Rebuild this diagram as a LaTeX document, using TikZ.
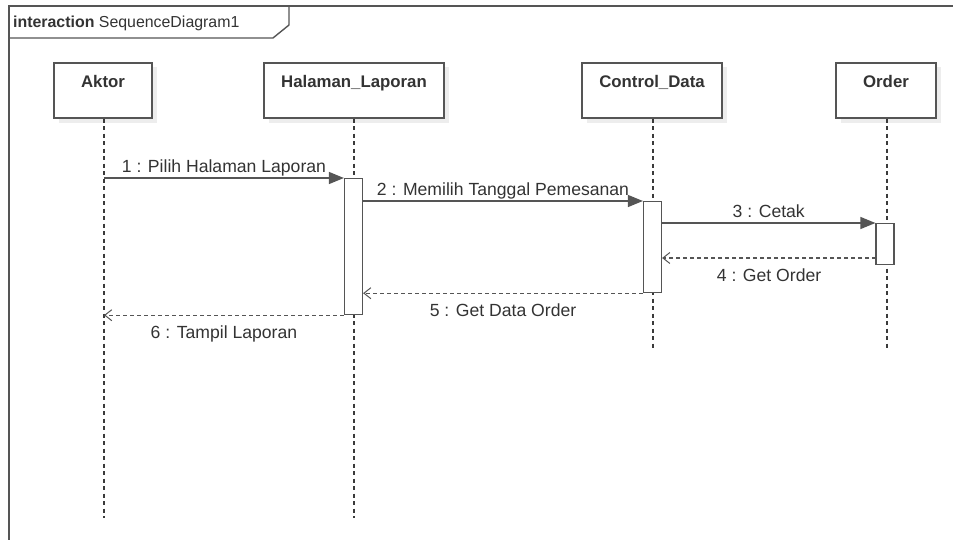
\documentclass[tikz,border=0pt]{standalone}
\usepackage{fontspec}
\setmainfont{Liberation Sans}
\usetikzlibrary{arrows.meta,positioning,calc}
\definecolor{linegray}{HTML}{555555}
\definecolor{dashgray}{HTML}{3A3A3A}
\definecolor{textgray}{HTML}{333333}
\definecolor{shadowgray}{HTML}{EDEDED}
\tikzset{
  objbox/.style={draw=linegray, line width=1.3pt, fill=white, minimum height=55pt, inner sep=0pt},
  objname/.style={font=\fontsize{16.8}{20}\selectfont\bfseries, text=textgray, inner sep=0pt},
  lifeline/.style={draw=dashgray, line width=1.1pt, dash pattern=on 4pt off 3.5pt},
  actbar/.style={draw=linegray, line width=1.2pt, fill=white, minimum width=18pt, inner sep=0pt},
  callmsg/.style={draw=linegray, line width=1.3pt, -{Triangle[length=15pt,width=12pt]}},
  retmsg/.style={draw=linegray, line width=1.3pt, dash pattern=on 4pt off 3pt, -{Straight Barb[length=7pt,width=11pt,line width=1pt]}},
  msglabel/.style={font=\fontsize{17.6}{20}\selectfont, text=textgray, inner sep=0pt, anchor=base},
  lblabove/.style={msglabel, yshift=5pt},
  lblbelow/.style={msglabel, yshift=-23.5pt},
  framebox/.style={draw=linegray, line width=1.4pt}
}
\begin{document}
\begin{tikzpicture}[x=1pt,y=-1pt]
  \useasboundingbox (0,0) rectangle (953,540);

  % interaction frame with its name tab
  \draw[framebox] (9,545) -- (9,6) -- (960,6);
  \draw[framebox] (9,38) -- (273,38) -- (289,25) -- (289,6);
  \node[anchor=base west, inner sep=0pt, text=textgray, font=\fontsize{15.9}{19}\selectfont] (title)
    at (13,28) {\textbf{interaction} SequenceDiagram1};

  % object box shadows
  \foreach \cx/\w in {103/98, 354/180, 652/140, 886/100}
    \fill[shadowgray] (\cx-\w/2+5,67.5) rectangle (\cx+\w/2+5,123);

  % objects
  \node[objbox, minimum width=98pt]  (aktor)   at (103,90.5) {};
  \node[objbox, minimum width=180pt] (halaman) at (354,90.5) {};
  \node[objbox, minimum width=140pt] (control) at (652,90.5) {};
  \node[objbox, minimum width=100pt] (order)   at (886,90.5) {};
  \node[objname, anchor=base] (aktorname)   at (103,88) {Aktor};
  \node[objname, anchor=base] (halamanname) at (354,88) {Halaman\_Laporan};
  \node[objname, anchor=base] (controlname) at (652,88) {Control\_Data};
  \node[objname, anchor=base] (ordername)   at (886,88) {Order};

  % lifeline ends
  \coordinate (aktorend)   at (104,518);
  \coordinate (halamanend) at (354,518);
  \coordinate (controlend) at (653,350);
  \coordinate (orderend)   at (887,350);
  \draw[lifeline] (aktor.south -| aktorend) -- (aktorend);
  \draw[lifeline] (halaman.south) -- (halamanend);
  \draw[lifeline] (control.south -| controlend) -- (controlend);
  \draw[lifeline] (order.south -| orderend) -- (orderend);

  % activation bars
  \node[actbar, minimum height=136pt, anchor=north] (bar1) at (353.5,178) {};
  \node[actbar, minimum height=91pt,  anchor=north] (bar2) at (652.5,201) {};
  \node[actbar, minimum height=41pt,  anchor=north] (bar3) at (885,223) {};

  % messages
  \coordinate (m1start) at (104,178);
  \coordinate (m4start) at (876,258);
  \draw[callmsg] (m1start) -- node[lblabove] (l1) {1 : Pilih Halaman Laporan} (bar1.north west);
  \draw[callmsg] (bar1.east |- bar2.north) -- node[lblabove] (l2) {2 : Memilih Tanggal Pemesanan} (bar2.north west);
  \draw[callmsg] (bar2.east |- bar3.north) -- node[lblabove] (l3) {3 : Cetak} (bar3.north west);
  \draw[retmsg] (m4start) -- node[lblbelow] (l4) {4 : Get Order} (bar2.east |- m4start);
  \draw[retmsg] (bar2.south west) -- node[lblbelow] (l5) {5 : Get Data Order} (bar1.east |- bar2.south);
  \draw[retmsg] (bar1.south west) -- node[lblbelow] (l6) {6 : Tampil Laporan} (m1start |- bar1.south);
\end{tikzpicture}
\end{document}
